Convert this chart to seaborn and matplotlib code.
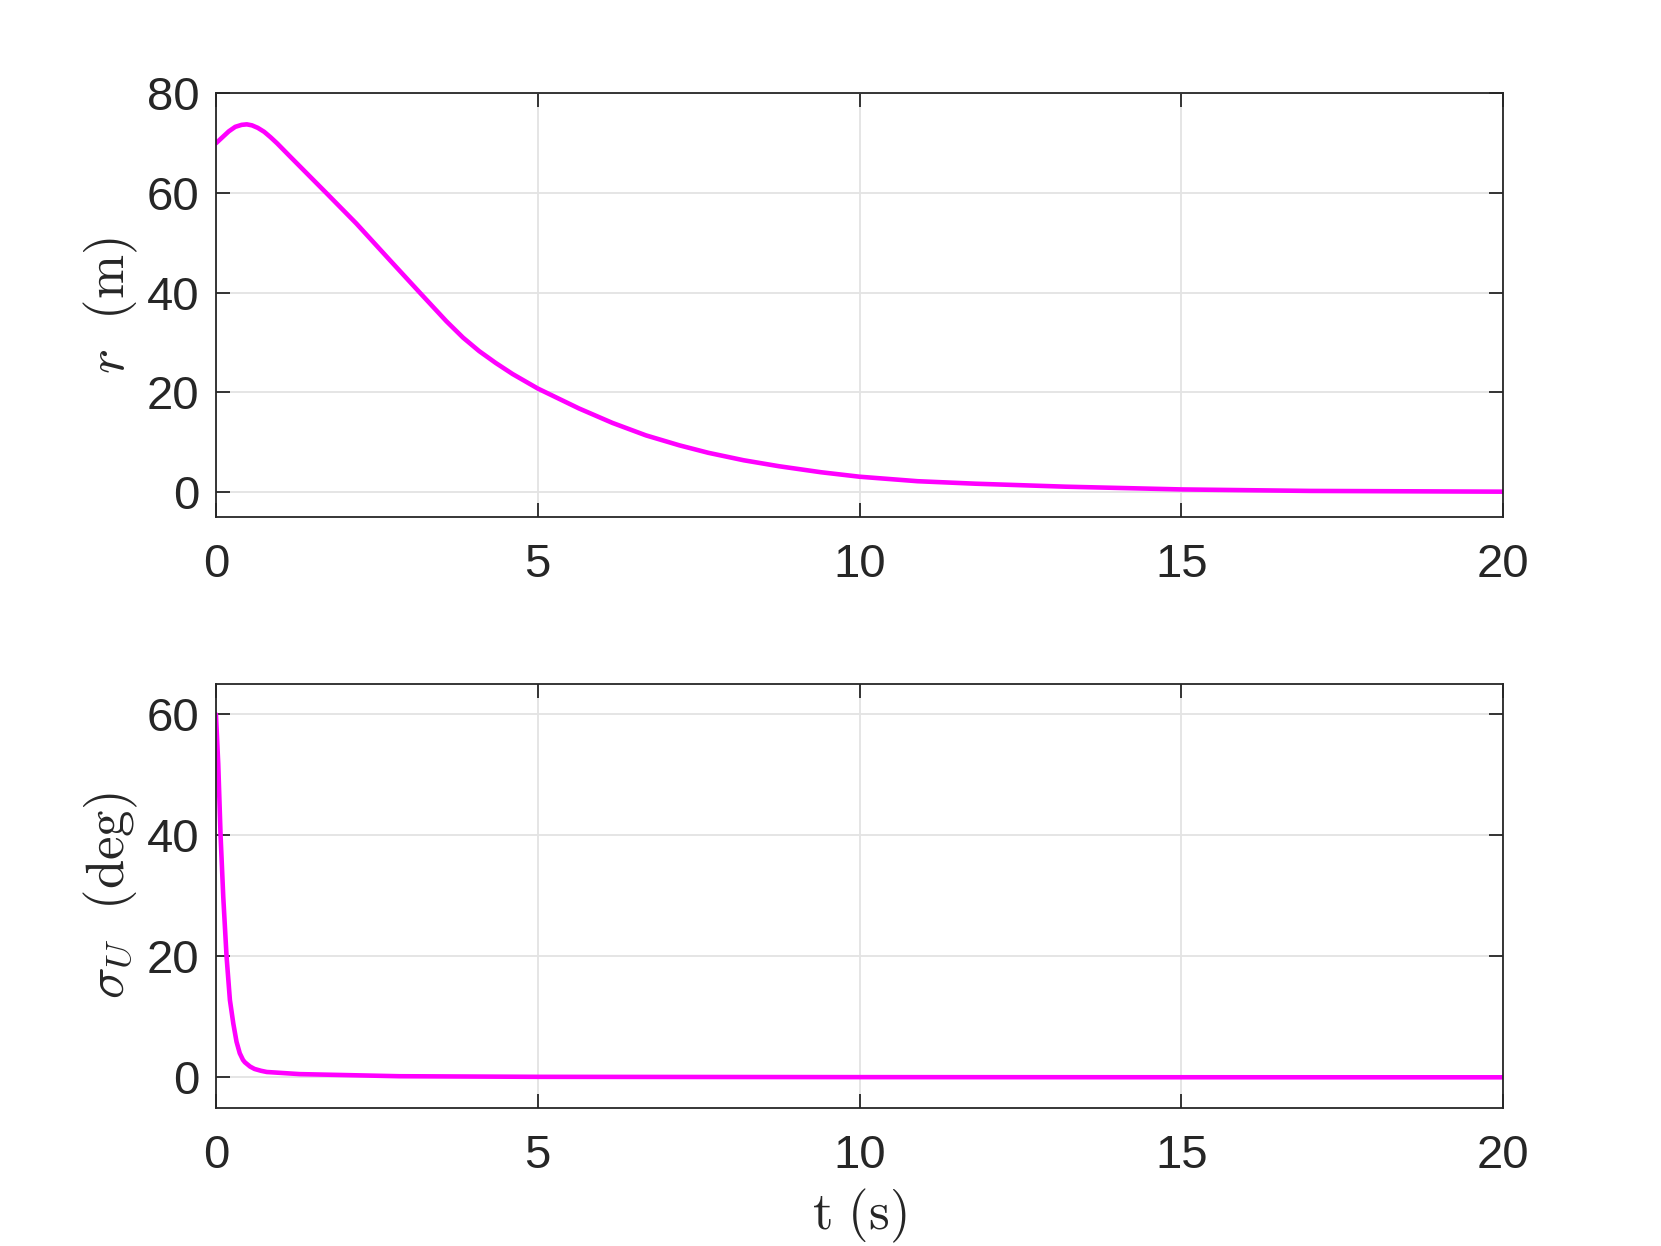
import seaborn as sns
import matplotlib.pyplot as plt

# range vs time
t_r = [0, 0.1, 0.2, 0.3, 0.4, 0.48, 0.56, 0.65, 0.75, 0.85, 0.95, 1.148, 1.717,
       2.182, 2.699, 3.17, 3.58, 3.84, 4.09, 4.35, 4.61, 5, 5.64,
       6.16, 6.68, 7.2, 7.65, 8.2, 8.75, 9.4, 10, 10.9, 11.8, 13.2, 15, 17, 20]
r = [70, 71.2, 72.4, 73.3, 73.7, 73.8, 73.6, 73.1, 72.3, 71.2, 70.0, 67.4, 60.0,
     53.9, 46.6, 40.0, 34.3, 31.0, 28.3, 25.9, 23.7, 20.8, 16.8,
     13.9, 11.4, 9.4, 7.9, 6.4, 5.2, 4.0, 3.1, 2.2, 1.7, 1.1, 0.55, 0.25, 0.1]

# sigma_U vs time
t_s = [0, 0.036, 0.072, 0.114, 0.165, 0.217, 0.27, 0.32, 0.37, 0.42, 0.45, 0.53,
       0.6, 0.7, 0.79, 1.3, 2.85, 5, 10, 15, 20]
sigma_u = [60, 51.8, 40, 29.8, 20, 12.8, 8.9, 5.9, 4, 2.9, 2.5, 1.8,
           1.4, 1.1, 0.9, 0.55, 0.2, 0.1, 0.05, 0.03, 0.02]

xticks = [0, 5, 10, 15, 20]

sns.set_theme(style="white")
plt.rcParams["font.family"] = ["Liberation Sans", "DejaVu Sans"]
plt.rcParams["mathtext.fontset"] = "cm"

fig = plt.figure(figsize=(16.61, 12.46), dpi=100)
ax1 = fig.add_axes([0.130, 0.585, 0.775, 0.340])
ax2 = fig.add_axes([0.130, 0.111, 0.775, 0.340])

axcol = "#262626"

def style(ax, ylim, yticks):
    ax.set_xlim(0, 20)
    ax.set_ylim(*ylim)
    ax.set_xticks(xticks)
    ax.set_yticks(yticks)
    ax.grid(True, color="#e3e3e3", linewidth=1.3)
    ax.set_axisbelow(True)
    for s in ax.spines.values():
        s.set_visible(True)
        s.set_color(axcol)
        s.set_linewidth(1.3)
    ax.tick_params(direction="in", length=10, width=1.3, colors=axcol,
                   labelsize=34, top=True, right=True, bottom=True, left=True)
    ax.tick_params(axis="x", pad=19)
    ax.tick_params(axis="y", pad=12)
    for lab in ax.get_xticklabels() + ax.get_yticklabels():
        lab.set_color(axcol)

sns.lineplot(x=t_r, y=r, ax=ax1, color="#ff00ff", linewidth=3.3)
style(ax1, (-5, 80), [0, 20, 40, 60, 80])
ax1.set_ylabel(r"$r\ \ \mathrm{(m)}$", fontsize=38, color=axcol, labelpad=5)
ax1.set_xlabel("")

sns.lineplot(x=t_s, y=sigma_u, ax=ax2, color="#ff00ff", linewidth=3.3)
style(ax2, (-5, 65), [0, 20, 40, 60])
ax2.set_ylabel(r"$\sigma_U\ \ \mathrm{(deg)}$", fontsize=38, color=axcol, labelpad=5)
ax2.set_xlabel(r"$\mathrm{t\ (s)}$", fontsize=38, color=axcol, labelpad=6)

fig.savefig("out.png", dpi=100, facecolor="white")
